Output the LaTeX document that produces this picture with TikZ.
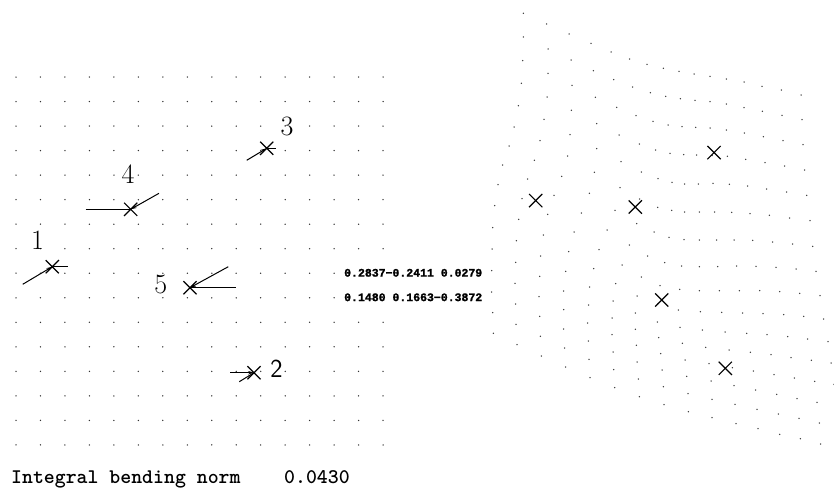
\documentclass[tikz,border=0pt]{standalone}
\usepackage{fontspec}
\newfontfamily\numf{Liberation Mono}[FakeBold=1.5]
\usetikzlibrary{arrows.meta,shapes.misc}
\begin{document}
\begin{tikzpicture}[x=1pt,y=-1pt,
  gdot/.style={fill=black!80},
  lmk/.style={draw, cross out, line width=1.2pt, minimum size=12pt, inner sep=0pt},
  vec/.style={line width=1pt},
  vecarr/.style={line width=1pt, -{Stealth[length=6pt,width=3.5pt]}},
  lbl/.style={font=\fontsize{28}{28}\selectfont, inner sep=0pt},
  lblsf/.style={font=\sffamily\fontsize{26}{26}\selectfont, inner sep=0pt},
  numtxt/.style={anchor=base west, inner sep=1pt, fill=white, font=\numf\bfseries\fontsize{11.5}{11.5}\selectfont},
  normtxt/.style={anchor=base west, inner sep=0pt, font=\ttfamily\bfseries\fontsize{20.8}{20.8}\selectfont}
]
\useasboundingbox (0,0) rectangle (834,487);
\fill[white] (0,0) rectangle (834,487);

% left regular grid
\foreach \r in {0,...,15}
  \foreach \c in {0,...,15}
    \fill[gdot] ({16+24.47*\c},{77+24.53*\r}) circle (0.75);

% right warped grid
\foreach \x/\y in {
523.3/13.3,546.7/24,569/34,591/43.3,611/52,629.7/59,647/64.3,663.3/68.3,679/71.3,694/74,710/76.3,726.3/79,744/82,762/86.3,781.3/90,801/95,
523.3/37,548/49,571/60,593.3/70.7,613.7/79.7,632.7/87,650.3/92.7,665.7/96.3,680.3/98.7,695/100.3,710/101.7,726.3/104,744/107.7,762.3/111.3,782/115.3,802/119.7,
522.7/60.7,548/73.3,572/85.3,595.3/97.3,616.7/107.3,636/115.7,653/121.3,668/125,682/126.7,695.7/127.3,710/128,726.3/130,744.3/133,763.3/136.7,783/140.7,803/144.7,
521.3/83.3,547/97,571.3/110.3,596.7/123.7,619/135,639.3/144,655.7/150,670/153.3,683.7/154.7,696.7/155,712/155.5,727.3/156.3,745.7/159.3,765/162.7,784.7/166,804.7/170,
518.3/105.7,544/119.3,570/134.7,596.7/148.7,621/161.7,641.3/172,658/178.7,672/182.3,684.7/184,698.3/184,713/183.3,729.3/184.3,747.7/186,766.7/189,786.7/192,806.7/195.3,
514/127,540/140.7,567.7/156,594.3/172.3,620/187.7,639.5/199,657.7/207.3,671.7/210.3,684.7/212,699.3/212,714.7/212,731.7/212.3,750/213.7,769.3/215.3,789.7/218,810/220.7,
509/146,534.3/160.3,561.7/176.3,589.3/193.3,615/210.3,636.7/223.7,654/232,669/237.3,684/239.7,699.3/240,716.7/240,734/240,752.7/240.3,772.7/242,792.7/244,812.7/246.3,
502.7/165,527.7/179,554/195.3,581.3/213,607/230,629.3/245,647.7/256,664.7/262.7,681.7/266,699.3/266.7,717.7/266.7,736.7/266,756/266.3,776/267.3,796/269,816/271.3,
498/184.7,522/198.7,547.7/214.3,574/232,599/249.7,622/265,641.3/277,660/285.7,679.7/289.3,699.3/290.7,719.3/290.7,739.3/290.7,759.7/290.7,779.7/291.7,799.7/293.3,820/295.7,
494.7/205.7,518.7/219.3,543.3/235,568.7/251.7,593.7/268.7,615.7/283.7,637/296,658/303.5,678.3/310,700.3/311.7,721.7/312.3,742.7/313,763/313.7,783.7/314.7,803.7/316.3,823.7/319,
492.7/227.7,516.3/240.7,540.7/256,565.7/271.3,589.7/287,613/301,635.3/313,657.3/322,680/327.3,702.3/330,725/332,746.7/333.3,767/334.7,787.7/336.7,807.7/339,828/341.7,
492/249,515.7/262.3,539.7/276.3,563.7/291,588.7/305,612/318,635.3/329.3,658.7/337.7,682.3/343.3,705.7/347.3,729/350,750.3/352.3,771/354.7,791/357.7,811.3/360.3,831/363,
491.7/270.7,515/283.3,539/296.7,563.7/309.7,587.7/323,612/334.7,636.3/345.3,660.7/353.7,685/360,709/363.7,732.3/367.7,753.3/371,774/374.7,794.3/378,814.7/381.3,834/384.3,
491.7/292,515.7/304,539.7/316.3,563.7/329,588.3/341,613/352,637/362,662/370,686.7/376.3,711/381,734/385.7,755.7/390,776.7/394.3,797/398.7,817/402.3,837/406,
492.7/312.7,516/324.3,540.3/336.3,564.7/348,589/359.3,613.7/369.7,638.3/379,663.3/386.7,688/393.7,712/399.3,735/404.3,757/409.3,778.3/414,799/418.3,819.3/423,839/427,
493.3/333.3,517/344.7,541.3/356,565.7/367,590/377.7,614.7/387.7,639.3/396.7,664/404.7,688.3/411.7,712/417.7,736/423.7,758/428.7,779.7/434.3,800.3/438.7,820.7/444,841/449}
  \fill[gdot] (\x,\y) circle (0.75);

% right landmarks
\node[lmk] (R1) at (535.7,200.6) {};
\node[lmk] (R2) at (725.3,368.3) {};
\node[lmk] (R3) at (714,152.6) {};
\node[lmk] (R4) at (635.3,207) {};
\node[lmk] (R5) at (661.7,300) {};

% left landmarks
\node[lmk] (L1) at (52.3,266.7) {};
\node[lmk] (L2) at (254,372.7) {};
\node[lmk] (L3) at (266.7,148.3) {};
\node[lmk] (L4) at (130.7,209.3) {};
\node[lmk] (L5) at (190,287.7) {};

% vector free ends
\coordinate (d1) at (22.7,284.3);
\coordinate (h1) at (67.7,266.7);
\coordinate (h4) at (85.7,209.3);
\coordinate (d4) at (159,193.3);
\coordinate (d3) at (246.7,160.3);
\coordinate (h3) at (276,148.3);
\coordinate (d5) at (228.3,266.7);
\coordinate (h5) at (236,287.7);
\coordinate (h2) at (230,372.7);
\coordinate (d2) at (239.3,381.7);

\draw[vecarr] (d1) -- (L1.center);
\draw[vec] (L1.center) -- (h1);
\draw[vecarr] (d4) -- (L4.center);
\draw[vec] (h4) -- (L4.center);
\draw[vecarr] (d3) -- (L3.center);
\draw[vec] (L3.center) -- (h3);
\draw[vecarr] (d5) -- (L5.center);
\draw[vec] (L5.center) -- (h5);
\draw[vecarr] (h2) -- (L2.center);
\draw[vec] (d2) -- (L2.center);

% landmark labels
\node[lbl] (n1) at (37.5,240) {1};
\node[lblsf] (n2) at (276.5,368.5) {2};
\node[lbl] (n3) at (287,126) {3};
\node[lbl] (n4) at (128,174.5) {4};
\node[lbl] (n5) at (160.7,284) {5};

% numeric values
\node[numtxt] (v1) at (343,276.6) {0.2837\char"2212 0.2411\ 0.0279};
\node[numtxt] (v2) at (343,301.1) {0.1480\ 0.1663\char"2212 0.3872};

% bending norm
\node[normtxt] (norm) at (11,483) {Integral\ bending\ norm\ \ \ \ 0.0430};
\end{tikzpicture}
\end{document}
